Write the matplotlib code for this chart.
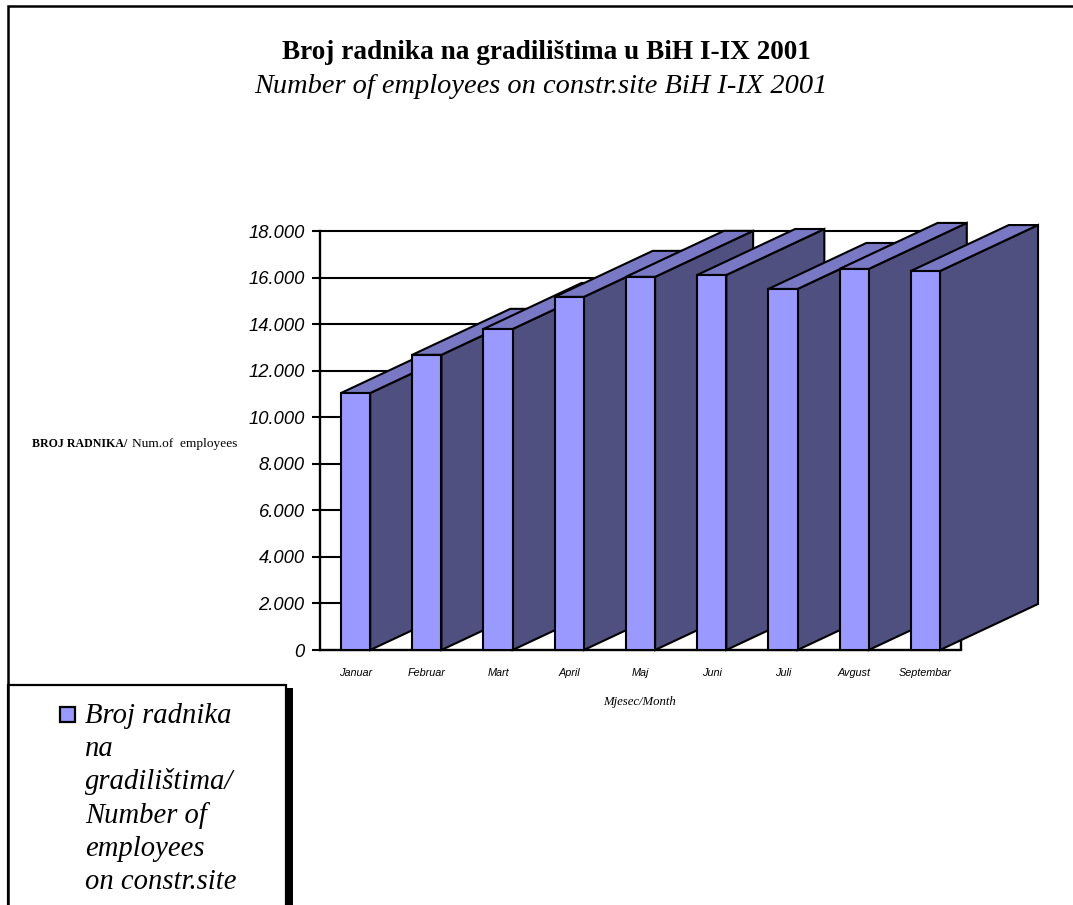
#!/usr/bin/env python3
import matplotlib
matplotlib.use("Agg")
import matplotlib.pyplot as plt
from matplotlib.patches import Polygon, Rectangle

months = ["Januar", "Februar", "Mart", "April", "Maj", "Juni", "Juli", "Avgust", "Septembar"]
employees = [11040, 12680, 13790, 15170, 16030, 16110, 15510, 16370, 16280]
y_ticks = [0, 2000, 4000, 6000, 8000, 10000, 12000, 14000, 16000, 18000]
legend_lines = ["Broj radnika", "na", "gradilištima/", "Number of", "employees", "on constr.site"]

W, H = 1073, 905
SERIF = "Liberation Serif"
SANS = "Liberation Sans"

FRONT = "#9999ff"
TOP = "#7878c4"
SIDE = "#4f4f80"


def fx(px):
    return px / W


def fy(py):
    return 1 - py / H


fig = plt.figure(figsize=(W / 100, H / 100), dpi=100, facecolor="white")

# outer frame: only left and top, runs off the picture
fig.add_artist(plt.Line2D([fx(8), fx(8), 1], [0, fy(6), fy(6)],
                          color="black", lw=1.8, solid_joinstyle="miter"))

ax = fig.add_axes([fx(320), fy(650), fx(641), 419 / H])
ax.set_xlim(0, len(months))
ax.set_ylim(0, 18000)
ax.patch.set_alpha(0)
for s in ["top", "right"]:
    ax.spines[s].set_visible(False)
for s in ["left", "bottom"]:
    ax.spines[s].set_linewidth(1.7)
    ax.spines[s].set_zorder(1)

# gridlines and the right edge of the floor
ax.hlines(y_ticks[1:], 0, len(months), color="black", lw=1.5, zorder=0.5, clip_on=False)
ax.vlines(len(months), 0, 18000, color="black", lw=1.7, zorder=0.5, clip_on=False)

ax.set_yticks(y_ticks)
ax.set_yticklabels([f"{v:,}".replace(",", ".") for v in y_ticks],
                   family=SANS, style="italic", fontsize=13.2)
ax.set_xticks([i + 0.5 for i in range(len(months))])
ax.set_xticklabels(months, family=SANS, style="italic", fontsize=7.8)
ax.tick_params(axis="y", length=6, width=1.5, pad=5)
ax.tick_params(axis="x", length=0, pad=13)

# fake 3D bars: front, top and side faces
bar_w = 0.41
depth_x = 98 / 71.2
depth_y = 46 / 419 * 18000
for i, v in enumerate(employees):
    x0 = i + 0.5 - bar_w / 2
    x1 = x0 + bar_w
    faces = [
        ([(x1, 0), (x1 + depth_x, depth_y), (x1 + depth_x, v + depth_y), (x1, v)], SIDE),
        ([(x0, v), (x0 + depth_x, v + depth_y), (x1 + depth_x, v + depth_y), (x1, v)], TOP),
        ([(x0, 0), (x0, v), (x1, v), (x1, 0)], FRONT),
    ]
    for pts, col in faces:
        ax.add_patch(Polygon(pts, closed=True, facecolor=col, edgecolor="black",
                             lw=1.5, clip_on=False, zorder=3 + i, joinstyle="miter"))

fig.text(fx(546), fy(59), "Broj radnika na gradilištima u BiH I-IX 2001", family=SERIF,
         weight="bold", fontsize=19.6, ha="center", va="baseline")
fig.text(fx(541), fy(93), "Number of employees on constr.site BiH I-IX 2001", family=SERIF,
         style="italic", fontsize=20.4, ha="center", va="baseline")

fig.text(fx(32), fy(447), "BROJ RADNIKA/", family=SERIF, weight="bold", fontsize=8.6,
         ha="left", va="baseline")
fig.text(fx(132), fy(447), "Num.of  employees", family=SERIF, fontsize=9.6,
         ha="left", va="baseline")
fig.text(fx(640), fy(705), "Mjesec/Month", family=SERIF, style="italic", fontsize=9.2,
         ha="center", va="baseline")

# legend box with its black shadow, cut by the bottom edge
fig.add_artist(Rectangle((fx(286), 0), fx(7), fy(688), transform=fig.transFigure,
                         facecolor="black", edgecolor="none"))
fig.add_artist(Rectangle((fx(8), -0.02), fx(278), fy(685) + 0.02, transform=fig.transFigure,
                         facecolor="white", edgecolor="black", lw=1.6))
fig.add_artist(Rectangle((fx(60), fy(722)), fx(15), 15 / H, transform=fig.transFigure,
                         facecolor=FRONT, edgecolor="black", lw=1.6))
for k, line in enumerate(legend_lines):
    fig.text(fx(85), fy(723 + k * 33.2), line, family=SERIF, style="italic",
             fontsize=20.6, ha="left", va="baseline")

fig.savefig("out.png", dpi=100)
